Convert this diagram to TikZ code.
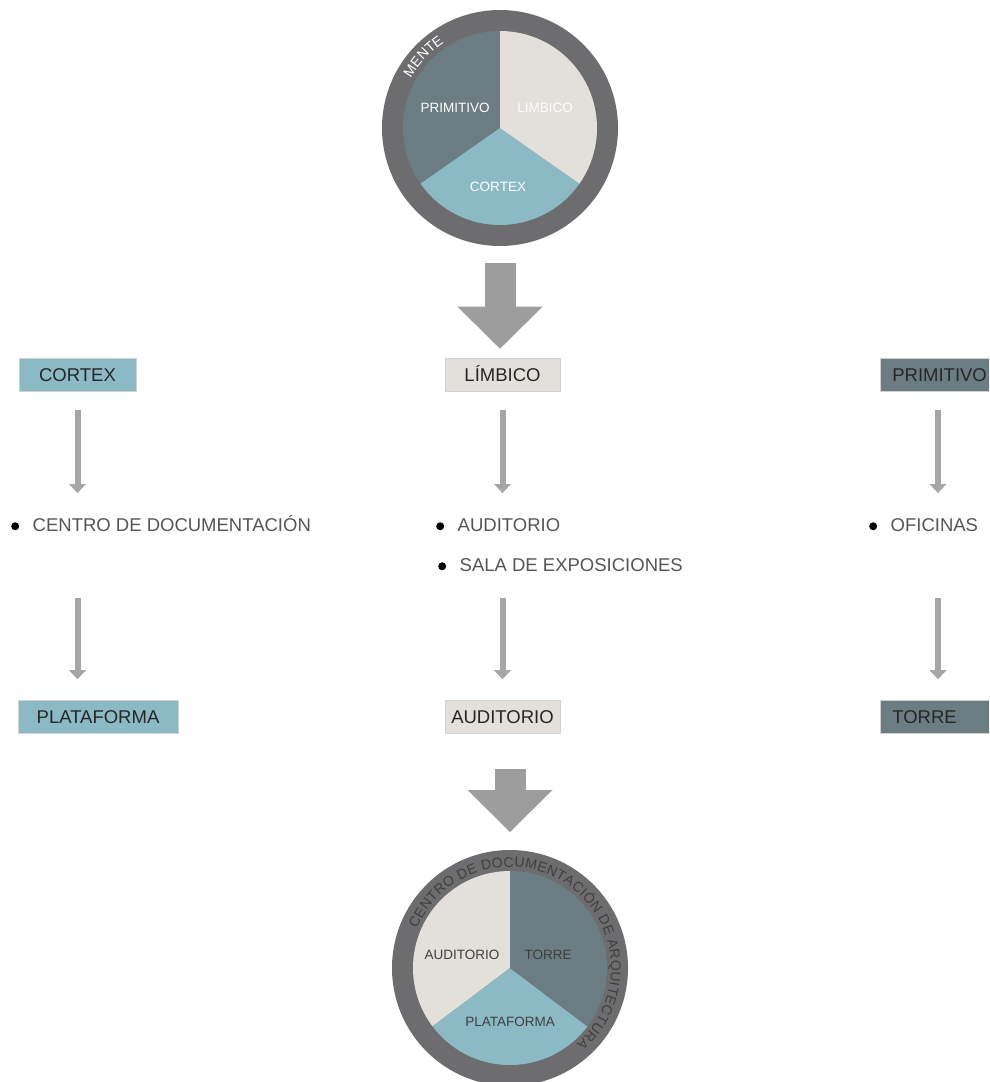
\documentclass[tikz,border=0pt]{standalone}
\usepackage{fontspec}
\setmainfont{Liberation Sans}
\usetikzlibrary{arrows.meta, decorations.text}
\definecolor{ringc}{HTML}{6D6D6F}
\definecolor{primc}{HTML}{6B7D83}
\definecolor{limbc}{HTML}{E3DFDA}
\definecolor{cortc}{HTML}{8BBAC4}
\definecolor{bigc}{HTML}{9D9D9D}
\definecolor{thinc}{HTML}{A6A6A6}
\definecolor{itemc}{HTML}{555555}
\definecolor{darktxt}{HTML}{3F3F3F}
\newcommand{\bigfont}{\fontsize{18.5}{22}\selectfont}
\newcommand{\piefont}{\fontsize{13.5}{15}\selectfont}
\tikzset{
    box/.style={draw=black!18, line width=0.6pt, minimum height=33pt, inner xsep=0pt, text height=13.5pt, text depth=0pt, font=\bigfont, text=black!85}, % cajas de texto
    sidebox/.style={box, anchor=west, text width=106pt, inner xsep=12pt, align=left}, % cajas cortadas a la derecha
    item/.style={inner sep=0pt, anchor=west, text height=13.5pt, text depth=0pt, font=\bigfont, text=itemc}, % lista con puntos
    pielbl/.style={inner sep=0pt, font=\piefont}, % textos de las tartas
    thin arrow/.style={thinc, line width=6pt, -{Triangle[length=9pt, width=17pt, line width=0pt]}},
    big arrow/.style={bigc, line width=31pt, -{Triangle[length=42pt, width=85pt, line width=0pt]}}
}
\newcommand{\bul}{\tikz[baseline=-5.5pt]\fill[black] (0,0) circle (4pt);\hspace{13.5pt}}

\begin{document}
\begin{tikzpicture}[x=1pt, y=1pt]
    \useasboundingbox (0,0) rectangle (989,-1082);
    \clip (0,0) rectangle (989,-1082);

    % tarta de arriba
    \coordinate (mente) at (500,-128);
    \fill[ringc] (mente) circle (118pt);
    \foreach \a/\b/\c in {90/215/primc, 215/325/cortc, 325/450/limbc}
        {\fill[\c] (mente) -- ++(\a:97pt) arc (\a:\b:97pt) -- cycle;}
    \node[pielbl, text=white] (lprim) at (455,-108) {PRIMITIVO};
    \node[pielbl, text=white!95!limbc] (llimb) at (545,-108) {LIMBICO};
    \node[pielbl, text=white] (lcort) at (498,-187) {CORTEX};
    \path[decorate, decoration={text along path, text align=center, text color=white,
        text={|\fontsize{14}{16}\selectfont|MENTE}}]
        ([shift={(164:102pt)}]mente) arc (164:110:102pt);

    % cajas
    \node[box, fill=cortc, minimum width=117pt] (cortex) at (77.5,-374.5) {CORTEX};
    \node[box, fill=limbc, minimum width=115pt] (limbico) at (502.5,-374.5) {LÍMBICO};
    \node[sidebox, fill=primc] (primitivo) at (880,-374.5) {PRIMITIVO};

    \node[item] (doc) at (11,-525) {\bul CENTRO DE DOCUMENTACIÓN};
    \node[item] (aud) at (436,-525) {\bul AUDITORIO};
    \node[item] (sala) at (438,-565) {\bul SALA DE EXPOSICIONES};
    \node[item] (ofi) at (869,-525) {\bul OFICINAS};

    \node[box, fill=cortc, minimum width=160pt] (plat) at (98,-717) {PLATAFORMA};
    \node[box, fill=limbc, minimum width=115pt] (auditorio) at (502.5,-717) {AUDITORIO};
    \node[sidebox, fill=primc] (torre) at (880,-717) {TORRE};

    % flechas
    \draw[big arrow, shorten <=135pt, shorten >=9pt] (mente) -- (mente |- limbico.north);

    \draw[thin arrow, shorten <=19pt, shorten >=25pt] (cortex.south) -- (cortex.south |- doc.north);
    \draw[thin arrow, shorten <=19pt, shorten >=25pt] (limbico.south) -- (limbico.south |- aud.north);
    \draw[thin arrow, shorten <=19pt, shorten >=25pt] ([xshift=58pt]primitivo.south west) -- ([xshift=58pt]primitivo.south west |- ofi.north);

    \draw[thin arrow, shorten <=66pt, shorten >=21pt] (cortex.south |- doc.south) -- (cortex.south |- plat.north);
    \draw[thin arrow, shorten <=26pt, shorten >=21pt] (limbico.south |- sala.south) -- (auditorio.north);
    \draw[thin arrow, shorten <=66pt, shorten >=21pt] ([xshift=58pt]primitivo.south west |- ofi.south) -- ([xshift=58pt]torre.north west);

    % tarta de abajo
    \coordinate (cda) at (510,-968);
    \draw[big arrow, shorten <=35pt, shorten >=136pt] (auditorio.south -| cda) -- (cda);
    \fill[ringc] (cda) circle (118pt);
    \foreach \a/\b/\c in {90/217/limbc, 217/323/cortc, 323/450/primc}
        {\fill[\c] (cda) -- ++(\a:97pt) arc (\a:\b:97pt) -- cycle;}
    \node[pielbl, text=darktxt] (laud) at (462,-955) {AUDITORIO};
    \node[pielbl, text=darktxt] (ltor) at (548,-955) {TORRE};
    \node[pielbl, text=darktxt] (lplat) at (510,-1022) {PLATAFORMA};
    \path[decorate, decoration={text along path, text align=fit to path, text color=darktxt,
        text={|\fontsize{14}{16}\selectfont|CENTRO DE  DOCUMENTACIÓN DE ARQUITECTURA}}]
        ([shift={(157:101pt)}]cda) arc (157:-49:101pt);
\end{tikzpicture}
\end{document}
